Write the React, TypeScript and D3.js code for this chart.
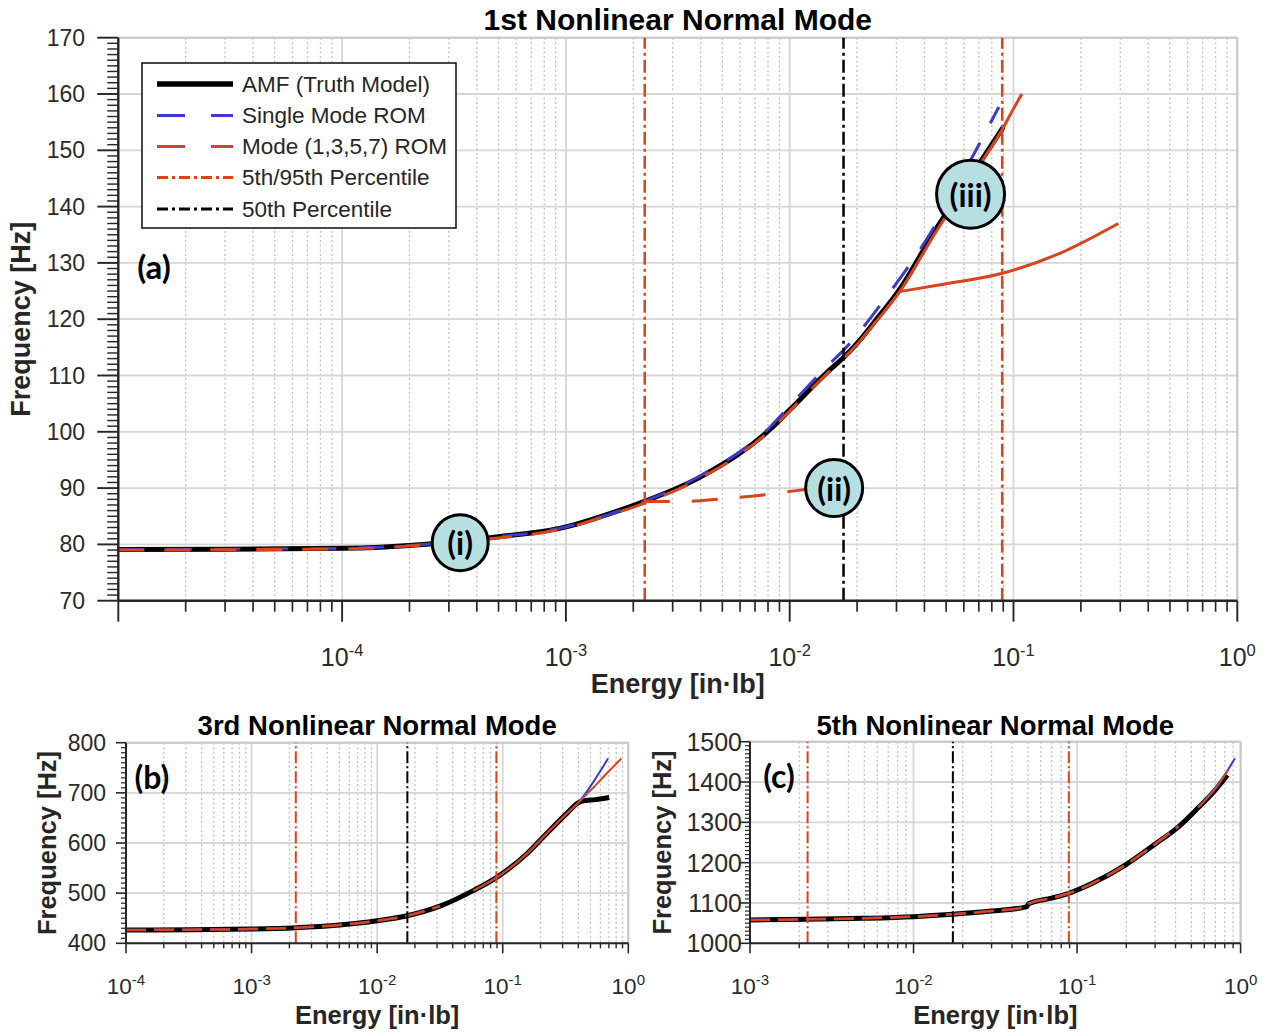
import React from "react";
import * as d3 from "d3";

// ---------------- shared percentile energies ----------------
const P5 = 2.25e-3;
const P50 = 0.0174;
const P95 = 0.089;

// ---------------- (a) 1st Nonlinear Normal Mode ----------------
const m1AmfE = [1e-5, 3e-5, 1e-4, 2.3e-4, 4.6e-4, 1e-3, 1.42e-3, 2.23e-3, 4e-3, 8.2e-3, 1e-2, 0.0151, 0.0175, 0.0205, 0.024, 0.031, 0.045, 0.06, 0.075, 0.09];
const m1AmfF = [79.1, 79.15, 79.3, 80.0, 81.2, 83.1, 84.9, 87.6, 92.0, 100.5, 103.9, 111.0, 113.3, 116.2, 119.6, 125.3, 136.0, 143.5, 149.3, 154.1];

const m1SingleE = [1e-5, 1e-4, 4.6e-4, 1e-3, 2.23e-3, 4e-3, 8.2e-3, 1e-2, 0.0151, 0.0175, 0.0264, 0.045, 0.06, 0.086];
const m1SingleF = [79.1, 79.3, 81.2, 83.1, 87.6, 92.2, 100.9, 104.6, 112.1, 114.6, 123.4, 136.9, 146.0, 157.7];

const m1RomE = [1e-5, 3e-5, 1e-4, 2.3e-4, 4.6e-4, 1e-3, 1.42e-3, 2.23e-3, 4e-3, 8.2e-3, 1e-2, 0.0151, 0.0175, 0.0205, 0.024, 0.031, 0.045, 0.06, 0.075, 0.09, 0.1, 0.109];
const m1RomF = [79.0, 79.05, 79.2, 79.9, 81.0, 82.9, 84.7, 87.3, 91.8, 100.3, 103.7, 110.8, 113.1, 116.0, 119.3, 124.9, 135.5, 143.1, 149.0, 154.0, 157.4, 160.0];

const m1BranchIIE = [2.23e-3, 3.3e-3, 5e-3, 7.13e-3, 0.0115, 0.0158];
const m1BranchIIF = [87.6, 87.6, 88.1, 88.65, 89.7, 90.3];

const m1BranchIIIE = [0.031, 0.0486, 0.09, 0.161, 0.294];
const m1BranchIIIF = [124.9, 126.2, 128.2, 131.7, 137.0];

const annE = [3.37e-4, 0.0158, 0.0643];
const annF = [80.3, 90.0, 142.2];
const annText = ["(i)", "(ii)", "(iii)"];

const legendLabels = ["AMF (Truth Model)", "Single Mode ROM", "Mode (1,3,5,7) ROM", "5th/95th Percentile", "50th Percentile"];

// ---------------- (b) 3rd Nonlinear Normal Mode ----------------
const m3AmfE = [1e-4, 3.2e-4, 1e-3, 2.27e-3, 5e-3, 1e-2, 0.0174, 0.0316, 0.0582, 0.089, 0.155, 0.224, 0.324, 0.398, 0.43, 0.55, 0.705];
const m3AmfF = [426.5, 427.2, 428.3, 431.0, 436.5, 445, 455, 474, 505, 531, 578, 619, 659, 680, 683.5, 686.5, 690.8];

const m3SingleE = [1e-4, 3.2e-4, 1e-3, 2.27e-3, 5e-3, 1e-2, 0.0174, 0.0316, 0.0582, 0.089, 0.155, 0.224, 0.324, 0.398, 0.46, 0.56, 0.69];
const m3SingleF = [426.5, 427.2, 428.3, 431.0, 436.5, 445, 455, 474, 505, 531, 578, 619, 659, 680, 700, 732, 768.5];

const m3RomE = [1e-4, 3.2e-4, 1e-3, 2.27e-3, 5e-3, 1e-2, 0.0174, 0.0316, 0.0582, 0.089, 0.155, 0.224, 0.324, 0.398, 0.46, 0.56, 0.69, 0.88];
const m3RomF = [426.5, 427.2, 428.3, 431.0, 436.5, 445, 455, 474, 505, 531, 578, 619, 659, 680, 695.8, 717.5, 741.5, 768.5];

// ---------------- (c) 5th Nonlinear Normal Mode ----------------
const m5AmfE = [1e-3, 2.25e-3, 5e-3, 1e-2, 0.0174, 0.03, 0.049, 0.0505, 0.07, 0.089, 0.124, 0.197, 0.3, 0.417, 0.55, 0.7, 0.83];
const m5AmfF = [1057.8, 1059.5, 1062, 1066, 1072, 1080, 1090.5, 1098, 1112, 1124, 1148.8, 1194, 1246, 1289, 1336, 1380, 1417];

const m5SingleE = [1e-3, 2.25e-3, 5e-3, 1e-2, 0.0174, 0.03, 0.049, 0.0505, 0.07, 0.089, 0.124, 0.197, 0.3, 0.417, 0.55, 0.7, 0.83, 0.924];
const m5SingleF = [1057.8, 1059.5, 1062, 1066, 1072, 1080, 1090.5, 1098, 1112, 1124, 1148.8, 1194, 1246, 1290, 1338, 1386, 1428, 1459];

const m5RomE = [1e-3, 2.25e-3, 5e-3, 1e-2, 0.0174, 0.03, 0.049, 0.0505, 0.07, 0.089, 0.124, 0.197, 0.3, 0.417, 0.55, 0.7, 0.84];
const m5RomF = [1057.8, 1059.5, 1062, 1066, 1072, 1080, 1090.5, 1098, 1112, 1124, 1148.8, 1194, 1246, 1290, 1337, 1383, 1430];

// ---------------- styles ----------------
const RED = "#d8441c";
const BLUE = "#3c3cc8";
const BLACK = "#000000";
const AXIS = "#262626";
const GRID = "#d6d6d6";
const GRID_MINOR = "#c2c2c2";
const CIRCLE_FILL = "#b7dfe2";
const SANS = "'Liberation Sans', Arial, Helvetica, sans-serif";
const CAL = "Lato, 'Open Sans', sans-serif";

type Series = { E: number[]; F: number[]; color: string; width: number; dash?: string; split?: number; hiDash?: string; hiWidth?: number };

type PanelCfg = {
  left: number; right: number; top: number; bottom: number;
  xDomain: [number, number]; yDomain: [number, number];
  yMajor: number; yMinor: number;
  majorLen: number; minorLen: number; axisW: number;
  yTickFont: number; yTickEnd: number;
  xTickFont: number; xExpFont: number; xTickBase: number; xExpDy: number; skipFirstX: boolean;
  title: string; titleFont: number; titleBase: number;
  xLabelFont: number; xLabelBase: number;
  yLabelFont: number; yLabelX: number;
  series: Series[];
  vlineW: number; vlineDash: string;
  panelLabel: string; panelLabelX: number; panelLabelY: number; panelLabelFont: number;
};

function toPts(E: number[], F: number[]) {
  return E.map((e, i) => [e, F[i]] as [number, number]);
}

function Panel({ c, children }: { c: PanelCfg; children?: (x: any, y: any) => React.ReactNode }) {
  const x = d3.scaleLog().domain(c.xDomain).range([c.left, c.right]);
  const y = d3.scaleLinear().domain(c.yDomain).range([c.bottom, c.top]);
  const k0 = Math.round(Math.log10(c.xDomain[0]));
  const k1 = Math.round(Math.log10(c.xDomain[1]));
  const decades = d3.range(k0, k1 + 1);
  const minors: number[] = [];
  for (let k = k0; k < k1; k++) for (let m = 2; m <= 9; m++) minors.push(m * Math.pow(10, k));
  const yMajors = d3.range(c.yDomain[0], c.yDomain[1] + 1e-9, c.yMajor);
  const yMinors = d3.range(c.yDomain[0], c.yDomain[1] + 1e-9, c.yMinor).filter(
    (v) => Math.abs(v / c.yMajor - Math.round(v / c.yMajor)) > 1e-6
  );
  const line = d3.line<[number, number]>().x((d) => x(d[0])).y((d) => y(d[1])).curve(d3.curveMonotoneX);
  const cx = (c.left + c.right) / 2;
  const cy = (c.top + c.bottom) / 2;

  const paths: React.ReactNode[] = [];
  c.series.forEach((s, i) => {
    const pts = toPts(s.E, s.F);
    if (s.split !== undefined) {
      const lo = pts.filter((p) => p[0] <= s.split!);
      const hi = pts.filter((p) => p[0] >= s.split!);
      paths.push(<path key={`s${i}lo`} d={line(lo) || ""} fill="none" stroke={s.color} strokeWidth={s.width} strokeDasharray={s.dash} strokeLinejoin="round" />);
      paths.push(<path key={`s${i}hi`} d={line(hi) || ""} fill="none" stroke={s.color} strokeWidth={s.hiWidth ?? s.width} strokeDasharray={s.hiDash} strokeLinejoin="round" />);
    } else {
      paths.push(<path key={`s${i}`} d={line(pts) || ""} fill="none" stroke={s.color} strokeWidth={s.width} strokeDasharray={s.dash} strokeLinejoin="round" />);
    }
  });

  const vlines = [
    { e: P5, color: RED },
    { e: P95, color: RED },
    { e: P50, color: BLACK },
  ];

  return (
    <g>
      {minors.map((m) => (
        <line key={`mg${m}`} x1={x(m)} x2={x(m)} y1={c.top} y2={c.bottom} stroke={GRID_MINOR} strokeWidth={1.3} strokeDasharray="2,2.6" />
      ))}
      {decades.map((k) => (
        <line key={`Mg${k}`} x1={x(Math.pow(10, k))} x2={x(Math.pow(10, k))} y1={c.top} y2={c.bottom} stroke={GRID} strokeWidth={1.8} />
      ))}
      {yMajors.map((v) => (
        <line key={`yg${v}`} x1={c.left} x2={c.right} y1={y(v)} y2={y(v)} stroke={GRID} strokeWidth={1.8} />
      ))}
      <line x1={c.left} x2={c.right} y1={c.top} y2={c.top} stroke="#c8c8c8" strokeWidth={2} />
      <line x1={c.right} x2={c.right} y1={c.top} y2={c.bottom} stroke="#c8c8c8" strokeWidth={2} />

      {paths}

      {vlines.map((v, i) => (
        <line key={`v${i}`} x1={x(v.e)} x2={x(v.e)} y1={c.bottom} y2={c.top} stroke={v.color} strokeWidth={c.vlineW} strokeDasharray={c.vlineDash} />
      ))}

      <line x1={c.left} x2={c.right} y1={c.bottom} y2={c.bottom} stroke={AXIS} strokeWidth={c.axisW} />
      <line x1={c.left} x2={c.left} y1={c.top} y2={c.bottom} stroke={AXIS} strokeWidth={c.axisW} />
      {decades.map((k) => (
        <line key={`xt${k}`} x1={x(Math.pow(10, k))} x2={x(Math.pow(10, k))} y1={c.bottom} y2={c.bottom + c.majorLen} stroke={AXIS} strokeWidth={c.axisW * 0.8} />
      ))}
      {minors.map((m) => (
        <line key={`xm${m}`} x1={x(m)} x2={x(m)} y1={c.bottom} y2={c.bottom + c.minorLen} stroke={AXIS} strokeWidth={c.axisW * 0.7} />
      ))}
      {yMajors.map((v) => (
        <line key={`yt${v}`} x1={c.left - c.majorLen} x2={c.left} y1={y(v)} y2={y(v)} stroke={AXIS} strokeWidth={c.axisW * 0.8} />
      ))}
      {yMinors.map((v) => (
        <line key={`ym${v}`} x1={c.left - c.minorLen} x2={c.left} y1={y(v)} y2={y(v)} stroke={AXIS} strokeWidth={c.axisW * 0.6} />
      ))}

      {yMajors.map((v) => (
        <text key={`yl${v}`} x={c.yTickEnd} y={y(v)} textAnchor="end" dominantBaseline="central" fontFamily={SANS} fontSize={c.yTickFont} fill="#2a2a2a">
          {v}
        </text>
      ))}
      {decades.filter((k, i) => !(c.skipFirstX && i === 0)).map((k) => (
        <text key={`xl${k}`} x={x(Math.pow(10, k))} y={c.xTickBase} textAnchor="middle" fontFamily={SANS} fontSize={c.xTickFont} fill="#2a2a2a">
          <tspan>10</tspan>
          <tspan fontSize={c.xExpFont} dy={-c.xExpDy}>{k === 0 ? "0" : `-${-k}`}</tspan>
        </text>
      ))}

      <text x={cx} y={c.titleBase} textAnchor="middle" fontFamily={SANS} fontWeight="bold" fontSize={c.titleFont} fill="#000">
        {c.title}
      </text>
      <text x={cx} y={c.xLabelBase} textAnchor="middle" fontFamily={SANS} fontWeight="bold" fontSize={c.xLabelFont} fill="#262626">
        Energy [in·lb]
      </text>
      <text transform={`translate(${c.yLabelX},${cy}) rotate(-90)`} textAnchor="middle" fontFamily={SANS} fontWeight="bold" fontSize={c.yLabelFont} fill="#262626">
        Frequency [Hz]
      </text>

      {children ? children(x, y) : null}

      <text x={c.panelLabelX} y={c.panelLabelY} textAnchor="middle" dominantBaseline="central" fontFamily={CAL} fontWeight="bold" fontSize={c.panelLabelFont} fill="#000">
        {c.panelLabel}
      </text>
    </g>
  );
}

const cfgA: PanelCfg = {
  left: 118.3, right: 1237.3, top: 37.7, bottom: 600.7,
  xDomain: [1e-5, 1], yDomain: [70, 170], yMajor: 10, yMinor: 1,
  majorLen: 21, minorLen: 11, axisW: 2.4,
  yTickFont: 23, yTickEnd: 85,
  xTickFont: 25, xExpFont: 16.5, xTickBase: 666, xExpDy: 10, skipFirstX: true,
  title: "1st Nonlinear Normal Mode", titleFont: 30, titleBase: 30,
  xLabelFont: 27, xLabelBase: 693, yLabelFont: 27, yLabelX: 30,
  series: [
    { E: m1AmfE, F: m1AmfF, color: BLACK, width: 5 },
    { E: m1SingleE, F: m1SingleF, color: BLUE, width: 3, dash: "26,22" },
    { E: m1RomE, F: m1RomF, color: RED, width: 3, dash: "26,20", split: 0.0205 },
    { E: m1BranchIIE, F: m1BranchIIF, color: RED, width: 3, dash: "26,22" },
    { E: m1BranchIIIE, F: m1BranchIIIF, color: RED, width: 3 },
  ],
  vlineW: 2.5, vlineDash: "13,4,3,4",
  panelLabel: "(a)", panelLabelX: 154, panelLabelY: 266, panelLabelFont: 33,
};

const cfgB: PanelCfg = {
  left: 126, right: 628.3, top: 742.7, bottom: 943.3,
  xDomain: [1e-4, 1], yDomain: [400, 800], yMajor: 100, yMinor: 10,
  majorLen: 10, minorLen: 5, axisW: 2,
  yTickFont: 23, yTickEnd: 106,
  xTickFont: 22.5, xExpFont: 15, xTickBase: 994, xExpDy: 9, skipFirstX: false,
  title: "3rd Nonlinear Normal Mode", titleFont: 27.5, titleBase: 735,
  xLabelFont: 25.5, xLabelBase: 1024, yLabelFont: 25.5, yLabelX: 56,
  series: [
    { E: m3AmfE, F: m3AmfF, color: BLACK, width: 5 },
    { E: m3SingleE, F: m3SingleF, color: BLUE, width: 2.5, dash: "20,8", split: 0.04, hiWidth: 2 },
    { E: m3RomE, F: m3RomF, color: RED, width: 2.5, dash: "20,8", split: 0.04, hiWidth: 2 },
  ],
  vlineW: 2, vlineDash: "12,3,2,3",
  panelLabel: "(b)", panelLabelX: 152, panelLabelY: 776, panelLabelFont: 32,
};

const cfgC: PanelCfg = {
  left: 750, right: 1240.6, top: 741.7, bottom: 943.3,
  xDomain: [1e-3, 1], yDomain: [1000, 1500], yMajor: 100, yMinor: 10,
  majorLen: 10, minorLen: 5, axisW: 2,
  yTickFont: 25, yTickEnd: 742,
  xTickFont: 22.5, xExpFont: 15, xTickBase: 994, xExpDy: 9, skipFirstX: false,
  title: "5th Nonlinear Normal Mode", titleFont: 27.5, titleBase: 735,
  xLabelFont: 25.5, xLabelBase: 1024, yLabelFont: 25.5, yLabelX: 671,
  series: [
    { E: m5AmfE, F: m5AmfF, color: BLACK, width: 5 },
    { E: m5SingleE, F: m5SingleF, color: BLUE, width: 2.5, dash: "20,8", split: 0.5, hiWidth: 2 },
    { E: m5RomE, F: m5RomF, color: RED, width: 2.5, dash: "20,8", split: 0.5, hiWidth: 2 },
  ],
  vlineW: 2, vlineDash: "12,3,2,3",
  panelLabel: "(c)", panelLabelX: 779, panelLabelY: 775, panelLabelFont: 32,
};

const annR = [28, 28.5, 34];

function Legend() {
  const x0 = 142, y0 = 63, w = 314, h = 165;
  const lx1 = 157, lx2 = 233, tx = 242;
  const rows = [84, 115.5, 146.5, 177.5, 209];
  const styles = [
    { color: BLACK, width: 5.5, dash: undefined as string | undefined },
    { color: BLUE, width: 2.8, dash: "28,26" },
    { color: RED, width: 2.8, dash: "28,26" },
    { color: RED, width: 2.8, dash: "11,4,3,4" },
    { color: BLACK, width: 2.8, dash: "11,4,3,4" },
  ];
  return (
    <g>
      <rect x={x0} y={y0} width={w} height={h} fill="#fff" stroke="#1a1a1a" strokeWidth={1.6} />
      {legendLabels.map((lab, i) => (
        <g key={lab}>
          <line x1={lx1} x2={lx2} y1={rows[i]} y2={rows[i]} stroke={styles[i].color} strokeWidth={styles[i].width} strokeDasharray={styles[i].dash} />
          <text x={tx} y={rows[i]} dominantBaseline="central" fontFamily={SANS} fontSize={22.5} fill="#262626">
            {lab}
          </text>
        </g>
      ))}
    </g>
  );
}

export default function App() {
  return (
    <svg width={1272} height={1033} style={{ position: "absolute", left: 0, top: 0, background: "#fff" }}>
      <rect x={0} y={0} width={1272} height={1033} fill="#fff" />
      <Panel c={cfgA}>
        {(x, y) => (
          <g>
            {annE.map((e, i) => (
              <g key={annText[i]}>
                <circle cx={x(e)} cy={y(annF[i])} r={annR[i]} fill={CIRCLE_FILL} stroke="#000" strokeWidth={3} />
                <text x={x(e)} y={y(annF[i])} textAnchor="middle" dominantBaseline="central" fontFamily={CAL} fontWeight="bold" fontSize={32} fill="#000">
                  {annText[i]}
                </text>
              </g>
            ))}
            <Legend />
          </g>
        )}
      </Panel>
      <Panel c={cfgB} />
      <Panel c={cfgC} />
    </svg>
  );
}
